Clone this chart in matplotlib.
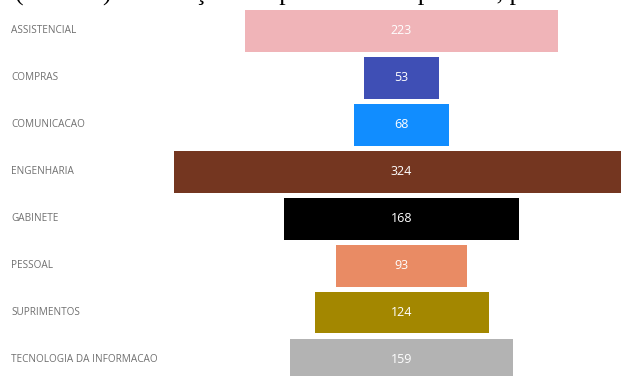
import matplotlib
matplotlib.use("Agg")
import matplotlib.pyplot as plt

setores = ["ASSISTENCIAL", "COMPRAS", "COMUNICACAO", "ENGENHARIA",
           "GABINETE", "PESSOAL", "SUPRIMENTOS", "TECNOLOGIA DA INFORMACAO"]
dias = [223, 53, 68, 324, 168, 93, 124, 159]
cores = ["#F0B4B8", "#3F4FB5", "#118DFF", "#743620",
         "#000000", "#E98B64", "#A38700", "#B3B3B3"]

W, H = 621, 376
fig = plt.figure(figsize=(W / 100, H / 100), dpi=100, facecolor="white")
ax = fig.add_axes([0, 0, 1, 1])

# funnel: each bar centred on zero
for i, (v, c) in enumerate(zip(dias, cores)):
    ax.barh(i, v, left=-v / 2, height=0.89, color=c, edgecolor="none")
    ax.text(0, i, str(v), ha="center", va="center", color="white",
            fontsize=9, family="Open Sans")
    ax.text(11 / W, i, setores[i], transform=ax.get_yaxis_transform(),
            ha="left", va="center", color="#707070", fontsize=7.2,
            family="Open Sans")

ax.set_xlim(-286, 156.3)
ax.set_ylim(7.35, -0.655)
ax.axis("off")

# heading line, mostly above the visible area
fig.text(-3 / W, 1 - 0.4 / H, "e (em dias) de duração dos processos no período, por setor de",
         ha="left", va="baseline", fontsize=18.5, family="Liberation Serif",
         color="black")

fig.savefig("out.png", dpi=100)
